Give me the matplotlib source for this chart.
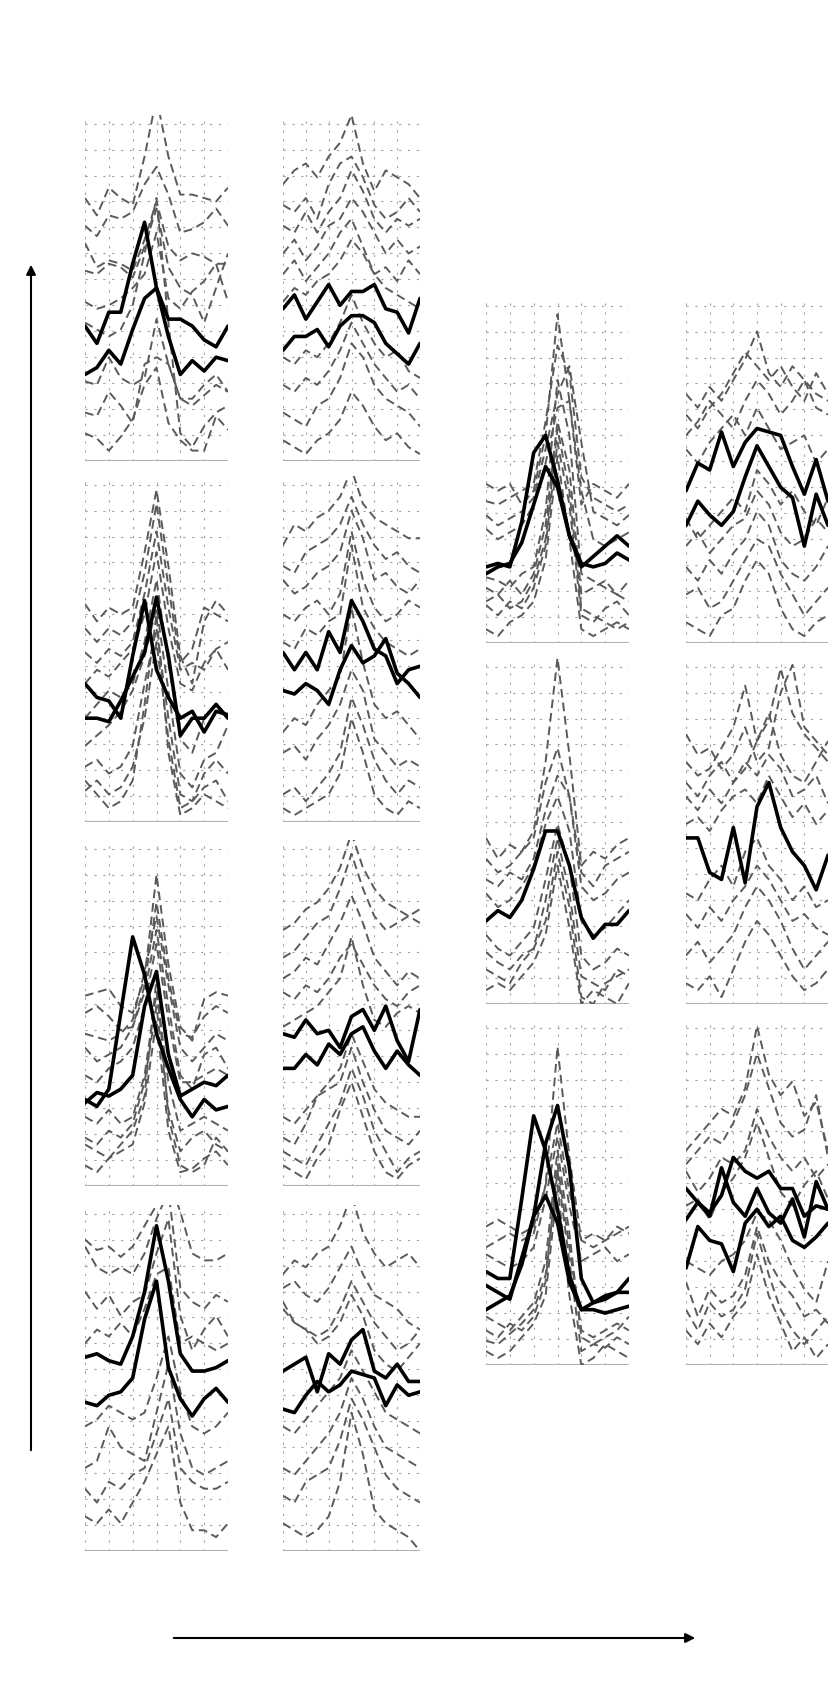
import numpy as np
import matplotlib
matplotlib.use("Agg")
import matplotlib.pyplot as plt

# each curve = 13 samples across the panel, height in % of panel (0 = bottom)

c1r1_dashed = [
    [76, 71, 79, 76, 74, 88, 105, 88, 77, 77, 76, 75, 79],
    [68, 65, 71, 70, 72, 80, 85, 77, 66, 67, 69, 73, 68],
    [63, 56, 58, 57, 55, 64, 75, 62, 58, 60, 59, 57, 46],
    [55, 54, 57, 56, 53, 62, 73, 56, 50, 48, 40, 50, 60],
    [46, 44, 45, 47, 50, 54, 66, 47, 44, 49, 52, 57, 57],
    [40, 38, 36, 38, 45, 60, 76, 40, 8, 4, 10, 14, 16],
    [23, 22, 30, 24, 22, 24, 41, 28, 18, 18, 22, 25, 20],
    [14, 13, 20, 16, 11, 28, 30, 28, 18, 16, 19, 22, 20],
    [8, 6.5, 3, 7, 12, 22, 27, 11, 6, 3, 3, 13, 9],
]
c1r1_solid = [
    [39, 34, 43, 43, 57, 69, 50, 41, 41, 39, 35, 33, 39],
    [25, 27, 32, 28, 38, 47, 50, 36, 25, 29, 26, 30, 29],
]

c1r2_dashed = [
    [63, 58, 62, 60, 62, 78, 96, 74, 48, 40, 58, 64, 60],
    [56, 52, 56, 54, 58, 72, 92, 68, 46, 50, 62, 60, 58],
    [49, 46, 50, 48, 52, 66, 84, 62, 44, 46, 44, 50, 52],
    [40, 44, 42, 46, 50, 60, 78, 56, 40, 38, 46, 50, 44],
    [30, 34, 38, 36, 40, 52, 70, 46, 24, 20, 30, 34, 30],
    [22, 25, 28, 32, 38, 48, 62, 38, 14, 10, 18, 20, 28],
    [16, 18, 14, 16, 22, 40, 56, 30, 8, 6, 14, 18, 14],
    [9, 12, 8, 10, 16, 30, 52, 24, 4, 6, 10, 12, 6],
    [12, 8, 4, 6, 12, 34, 60, 20, 2, 4, 8, 6, 4],
]
c1r2_solid = [
    [40, 36, 35, 30, 48, 64, 44, 36, 30, 32, 26, 32, 31],
    [30, 30, 29, 35, 42, 49, 65, 48, 25, 30, 30, 34, 30],
]

c1r3_dashed = [
    [55, 56, 57, 52, 50, 60, 90, 64, 46, 42, 54, 56, 55],
    [50, 52, 49, 45, 46, 58, 82, 60, 44, 43, 49, 52, 50],
    [44, 43, 42, 44, 48, 62, 78, 58, 40, 36, 40, 44, 42],
    [40, 36, 38, 40, 46, 56, 74, 52, 32, 28, 38, 40, 34],
    [32, 30, 34, 36, 40, 52, 70, 48, 30, 30, 32, 34, 32],
    [20, 18, 22, 18, 20, 32, 56, 30, 16, 18, 20, 18, 16],
    [14, 12, 16, 14, 18, 30, 52, 22, 10, 14, 16, 12, 10],
    [6, 4, 8, 10, 12, 24, 48, 16, 4, 5, 8, 10, 6],
    [12, 10, 8, 12, 16, 26, 60, 20, 6, 4, 6, 14, 10],
]
c1r3_solid = [
    [25, 23, 28, 50, 72, 61, 44, 34, 25, 20, 25, 22, 23],
    [24, 27, 26, 28, 32, 52, 62, 38, 26, 28, 30, 29, 32],
]

c1r4_dashed = [
    [90, 87, 88, 85, 88, 94, 100, 108, 98, 86, 84, 84, 86],
    [88, 82, 80, 82, 80, 86, 96, 104, 76, 72, 70, 74, 72],
    [75, 70, 74, 68, 72, 74, 86, 96, 68, 58, 64, 68, 62],
    [60, 64, 62, 66, 62, 70, 80, 82, 60, 62, 60, 58, 60],
    [36, 38, 42, 40, 38, 40, 50, 62, 46, 36, 34, 36, 40],
    [24, 26, 36, 30, 28, 26, 40, 54, 34, 24, 22, 24, 26],
    [18, 14, 20, 18, 22, 24, 34, 44, 24, 20, 18, 18, 20],
    [10, 8, 12, 8, 14, 20, 28, 36, 14, 6, 6, 4, 8],
]
c1r4_solid = [
    [56, 57, 55, 54, 62, 75, 94, 78, 57, 52, 52, 53, 55],
    [43, 42, 45, 46, 50, 67, 78, 53, 44, 39, 44, 47, 43],
]

c2r1_dashed = [
    [80, 84, 86, 82, 88, 92, 100, 86, 78, 84, 82, 80, 76],
    [74, 72, 76, 70, 80, 86, 88, 82, 74, 70, 72, 76, 72],
    [68, 66, 72, 66, 72, 76, 84, 78, 70, 66, 70, 68, 70],
    [60, 64, 58, 62, 68, 70, 76, 72, 66, 60, 64, 60, 62],
    [54, 58, 52, 56, 60, 66, 70, 62, 54, 56, 52, 58, 54],
    [46, 50, 48, 52, 54, 58, 64, 60, 54, 50, 48, 46, 44],
    [30, 28, 32, 30, 34, 40, 48, 40, 34, 30, 32, 26, 24],
    [22, 20, 24, 22, 26, 32, 40, 34, 28, 24, 20, 22, 18],
    [14, 12, 10, 16, 18, 24, 34, 30, 22, 18, 16, 14, 10],
    [6, 4, 2, 6, 8, 12, 20, 16, 10, 6, 8, 4, 2],
]
c2r1_solid = [
    [44, 48, 41, 46, 51, 45, 49, 49, 51, 44, 43, 37, 47],
    [32, 36, 36, 38, 33, 39, 42, 42, 40, 34, 31, 28, 34],
]

c2r2_dashed = [
    [80, 86, 84, 88, 90, 94, 102, 92, 88, 86, 84, 82, 82],
    [74, 72, 78, 80, 82, 86, 94, 86, 80, 76, 78, 74, 72],
    [70, 66, 68, 72, 74, 78, 90, 82, 70, 72, 68, 66, 70],
    [60, 58, 62, 64, 60, 66, 84, 70, 62, 58, 60, 64, 62],
    [52, 50, 56, 54, 58, 60, 80, 62, 56, 52, 50, 48, 50],
    [26, 30, 28, 34, 38, 42, 62, 46, 34, 30, 32, 28, 24],
    [20, 22, 18, 24, 28, 34, 44, 38, 24, 20, 16, 18, 16],
    [8, 10, 6, 10, 14, 20, 36, 28, 18, 12, 8, 12, 10],
    [4, 2, 4, 6, 8, 14, 30, 20, 8, 4, 2, 6, 4],
]
c2r2_solid = [
    [49, 44, 49, 44, 55, 49, 64, 58, 50, 48, 40, 44, 45],
    [38, 37, 40, 38, 34, 44, 51, 46, 48, 53, 43, 40, 36],
]

c2r3_dashed = [
    [74, 76, 80, 82, 86, 92, 102, 92, 86, 82, 80, 78, 80],
    [66, 68, 72, 76, 78, 86, 96, 86, 78, 74, 76, 78, 76],
    [60, 62, 66, 64, 70, 76, 84, 76, 66, 62, 58, 62, 60],
    [56, 54, 58, 56, 60, 66, 70, 64, 58, 54, 52, 56, 58],
    [46, 48, 50, 52, 56, 60, 72, 58, 48, 46, 50, 52, 50],
    [20, 18, 22, 26, 30, 34, 44, 36, 28, 24, 22, 20, 20],
    [14, 12, 18, 26, 28, 30, 40, 30, 22, 16, 14, 12, 16],
    [10, 8, 6, 12, 18, 24, 34, 26, 16, 10, 4, 8, 10],
    [6, 4, 2, 8, 12, 22, 30, 20, 10, 4, 2, 6, 8],
]
c2r3_solid = [
    [44, 43, 48, 44, 45, 40, 49, 51, 45, 52, 42, 36, 51],
    [34, 34, 38, 35, 41, 38, 44, 46, 39, 34, 39, 35, 32],
]

c2r4_dashed = [
    [80, 84, 82, 86, 88, 94, 103, 92, 86, 82, 84, 86, 82],
    [76, 78, 74, 72, 76, 82, 88, 80, 74, 72, 70, 66, 64],
    [72, 66, 64, 62, 64, 70, 78, 72, 66, 62, 58, 60, 64],
    [70, 66, 64, 60, 62, 66, 74, 68, 58, 54, 52, 56, 60],
    [36, 34, 38, 42, 46, 50, 58, 52, 46, 40, 38, 36, 34],
    [24, 22, 26, 30, 34, 40, 50, 44, 36, 30, 28, 26, 24],
    [16, 14, 20, 22, 24, 32, 44, 38, 30, 22, 18, 16, 14],
    [8, 6, 4, 6, 10, 20, 40, 28, 12, 8, 6, 4, 0],
]
c2r4_solid = [
    [52, 54, 56, 46, 57, 54, 61, 64, 52, 50, 54, 49, 49],
    [41, 40, 45, 49, 46, 48, 52, 51, 50, 42, 48, 45, 46],
]

c3r1_dashed = [
    [46, 44, 46, 40, 44, 60, 95, 70, 40, 46, 44, 42, 46],
    [41, 40, 42, 44, 46, 64, 86, 78, 48, 42, 40, 38, 40],
    [37, 34, 36, 38, 42, 56, 72, 80, 58, 38, 36, 34, 37],
    [33, 30, 32, 34, 40, 52, 68, 70, 44, 30, 28, 30, 32],
    [19, 18, 16, 20, 22, 38, 76, 60, 20, 18, 16, 14, 18],
    [16, 14, 18, 14, 20, 34, 64, 50, 14, 16, 18, 14, 12],
    [11, 8, 12, 10, 16, 28, 58, 40, 8, 6, 10, 12, 8],
    [4, 2, 6, 8, 12, 24, 54, 30, 4, 2, 4, 6, 4],
    [12, 14, 10, 12, 18, 30, 62, 44, 10, 8, 6, 4, 6],
]
c3r1_solid = [
    [22, 23, 22, 35, 55, 60, 47, 31, 22, 25, 28, 31, 28],
    [20, 22, 23, 29, 40, 51, 45, 31, 23, 22, 23, 26, 24],
]

c3r2_dashed = [
    [48, 42, 46, 44, 50, 70, 100, 72, 40, 44, 42, 46, 48],
    [42, 38, 40, 44, 48, 64, 74, 60, 38, 34, 40, 42, 44],
    [36, 34, 38, 36, 42, 56, 66, 60, 34, 30, 32, 36, 38],
    [32, 28, 30, 34, 40, 52, 60, 50, 24, 20, 22, 26, 30],
    [20, 16, 14, 18, 22, 36, 52, 40, 14, 10, 12, 16, 14],
    [15, 12, 10, 14, 16, 30, 48, 32, 8, 6, 4, 10, 8],
    [10, 8, 6, 12, 16, 24, 44, 28, 2, 0, 6, 8, 10],
    [4, 6, 4, 8, 12, 20, 40, 22, 0, 4, 2, 0, 6],
]
c3r2_solid = [
    [24, 27, 25, 30, 39, 50, 50, 40, 25, 19, 23, 23, 27],
]

c3r3_dashed = [
    [34, 36, 38, 36, 38, 52, 92, 60, 36, 34, 36, 38, 40],
    [40, 42, 40, 38, 40, 52, 70, 50, 36, 38, 36, 40, 38],
    [32, 30, 28, 30, 34, 48, 66, 46, 30, 32, 34, 30, 32],
    [14, 12, 10, 14, 18, 30, 62, 38, 8, 6, 8, 10, 14],
    [7, 6, 9, 12, 16, 26, 56, 30, 4, 6, 5, 8, 6],
    [4, 2, 4, 8, 12, 20, 52, 20, 0, 2, 6, 4, 2],
    [10, 8, 12, 10, 14, 24, 58, 34, 10, 8, 10, 12, 10],
]
c3r3_solid = [
    [27, 25, 25, 48, 72, 62, 45, 26, 16, 16, 15, 16, 17],
    [23, 21, 19, 31, 43, 64, 75, 57, 25, 18, 19, 21, 21],
    [16, 18, 20, 29, 43, 49, 41, 24, 16, 18, 20, 21, 25],
]

c4r1_dashed = [
    [72, 68, 74, 70, 76, 82, 90, 78, 74, 80, 76, 72, 70],
    [66, 62, 68, 72, 78, 84, 80, 76, 80, 74, 70, 78, 72],
    [60, 64, 70, 66, 62, 70, 76, 72, 66, 70, 76, 68, 66],
    [56, 52, 58, 62, 66, 60, 68, 62, 56, 58, 60, 52, 56],
    [36, 30, 34, 38, 42, 38, 50, 46, 40, 44, 38, 34, 42],
    [28, 32, 26, 30, 34, 36, 44, 40, 32, 28, 30, 36, 32],
    [22, 18, 24, 20, 26, 30, 38, 34, 24, 20, 18, 22, 28],
    [14, 16, 10, 12, 18, 24, 30, 28, 20, 14, 8, 12, 16],
    [6, 4, 2, 8, 10, 18, 24, 20, 10, 4, 2, 6, 8],
]
c4r1_solid = [
    [44, 52, 50, 61, 51, 58, 62, 61, 60, 51, 43, 53, 41],
    [34, 41, 37, 34, 38, 48, 57, 51, 45, 42, 28, 43, 34],
]

c4r2_dashed = [
    [70, 66, 68, 74, 80, 92, 76, 82, 97, 84, 78, 74, 70],
    [78, 72, 74, 68, 72, 80, 70, 74, 90, 98, 80, 76, 72],
    [64, 60, 66, 70, 64, 68, 76, 84, 72, 66, 64, 70, 76],
    [60, 56, 62, 58, 64, 70, 66, 72, 68, 60, 62, 66, 58],
    [52, 54, 50, 56, 60, 62, 58, 66, 60, 54, 58, 52, 56],
    [32, 30, 36, 40, 34, 44, 48, 40, 36, 30, 34, 28, 30],
    [26, 22, 28, 24, 30, 34, 40, 36, 30, 24, 26, 22, 20],
    [14, 18, 12, 16, 20, 28, 34, 30, 24, 16, 10, 14, 18],
    [6, 4, 8, 2, 10, 18, 24, 20, 14, 8, 4, 6, 10],
]
c4r2_solid = [
    [48, 48, 38, 36, 51, 35, 57, 64, 51, 44, 40, 33, 43],
]

c4r3_dashed = [
    [62, 66, 70, 74, 72, 80, 98, 84, 78, 82, 72, 76, 62],
    [58, 62, 66, 64, 70, 78, 90, 80, 70, 66, 68, 78, 60],
    [56, 50, 54, 60, 58, 62, 74, 66, 60, 56, 60, 54, 58],
    [46, 48, 42, 50, 54, 60, 70, 60, 50, 46, 52, 56, 48],
    [30, 28, 26, 30, 32, 36, 44, 42, 36, 28, 22, 18, 30],
    [24, 14, 22, 18, 20, 26, 40, 30, 24, 20, 14, 16, 12],
    [16, 10, 18, 14, 16, 22, 38, 26, 16, 10, 6, 10, 14],
    [10, 6, 12, 8, 14, 18, 32, 20, 12, 4, 8, 2, 6],
]
c4r3_solid = [
    [51, 47, 44, 49, 60, 56, 54, 56, 51, 51, 43, 46, 45],
    [42, 47, 43, 57, 47, 43, 51, 44, 41, 48, 37, 53, 45],
    [28, 40, 36, 35, 27, 41, 45, 40, 43, 36, 34, 37, 41],
]

# layout in figure pixels (top-left origin)
W, H = 830, 1694
COL_X = [(85, 228), (283, 420), (486, 629), (686, 828)]
TOPS_A = [115, 476, 840, 1205]
TOPS_B = [297, 658, 1019]
PANEL_H = 346

panels = [
    (0, TOPS_A[0], c1r1_dashed, c1r1_solid),
    (0, TOPS_A[1], c1r2_dashed, c1r2_solid),
    (0, TOPS_A[2], c1r3_dashed, c1r3_solid),
    (0, TOPS_A[3], c1r4_dashed, c1r4_solid),
    (1, TOPS_A[0], c2r1_dashed, c2r1_solid),
    (1, TOPS_A[1], c2r2_dashed, c2r2_solid),
    (1, TOPS_A[2], c2r3_dashed, c2r3_solid),
    (1, TOPS_A[3], c2r4_dashed, c2r4_solid),
    (2, TOPS_B[0], c3r1_dashed, c3r1_solid),
    (2, TOPS_B[1], c3r2_dashed, c3r2_solid),
    (2, TOPS_B[2], c3r3_dashed, c3r3_solid),
    (3, TOPS_B[0], c4r1_dashed, c4r1_solid),
    (3, TOPS_B[1], c4r2_dashed, c4r2_solid),
    (3, TOPS_B[2], c4r3_dashed, c4r3_solid),
]

fig = plt.figure(figsize=(W / 100, H / 100), dpi=100)

for col, top, dashed, solid in panels:
    x0, x1 = COL_X[col]
    ax = fig.add_axes([x0 / W, 1 - (top + PANEL_H) / H, (x1 - x0) / W, PANEL_H / H])
    ax.set_xlim(0, 12)
    ax.set_ylim(0, 100)
    for gx in np.arange(0, 13, 2):
        ax.axvline(gx, color="#a0a0a0", lw=0.8, ls=(0, (2, 6)), zorder=0)
    for gy in np.arange(7.5, 100, 7.5):
        ax.axhline(gy, color="#a0a0a0", lw=0.8, ls=(0, (2, 6)), zorder=0)
    ax.axhline(0, color="#b0b0b0", lw=2.2, zorder=1)
    for ys in dashed:
        ax.plot(np.arange(len(ys)), ys, color="#5a5a5a", lw=1.4, dashes=(4.5, 2.5), zorder=2)
    for ys in solid:
        ax.plot(np.arange(len(ys)), ys, color="black", lw=2.6, zorder=3,
                solid_joinstyle="round", solid_capstyle="round")
    ax.axis("off")

# axis arrows
fig.add_artist(matplotlib.patches.FancyArrowPatch(
    (31 / W, 1 - 1453 / H), (31 / W, 1 - 262 / H), transform=fig.transFigure,
    arrowstyle="-|>", mutation_scale=14, lw=1.5, color="black"))
fig.add_artist(matplotlib.patches.FancyArrowPatch(
    (171 / W, 1 - 1638 / H), (698 / W, 1 - 1638 / H), transform=fig.transFigure,
    arrowstyle="-|>", mutation_scale=14, lw=1.5, color="black"))

fig.savefig("out.png", dpi=100, facecolor="white")
